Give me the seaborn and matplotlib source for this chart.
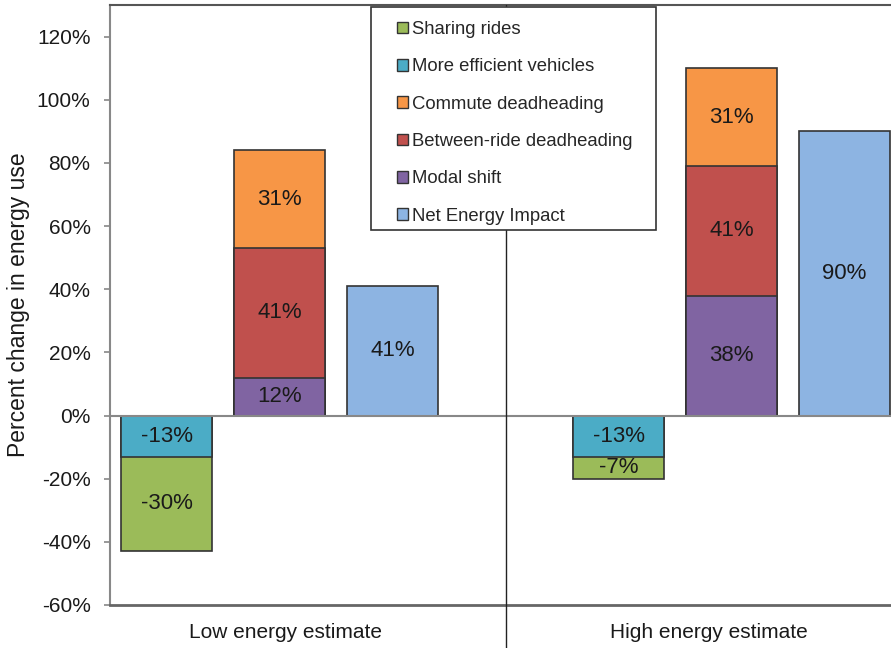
import matplotlib
matplotlib.use("Agg")
import matplotlib.pyplot as plt
from matplotlib.patches import Patch, Rectangle
import seaborn as sns

# values (percent change in energy use)
categories = ["Low energy estimate", "High energy estimate"]
sharing_rides = [-30, -7]
efficient_vehicles = [-13, -13]
modal_shift = [12, 38]
between_ride = [41, 41]
commute = [31, 31]
net_impact = [41, 90]

legend_names = ["Sharing rides", "More efficient vehicles", "Commute deadheading",
                "Between-ride deadheading", "Modal shift", "Net Energy Impact"]
legend_colors = ["#9BBB59", "#4BACC6", "#F79646", "#C0504D", "#8064A2", "#8DB4E2"]
col = dict(zip(legend_names, legend_colors))

# 7 slots on the x axis: three bars per estimate with an empty slot between
slots = ["low_neg", "low_pos", "low_net", "gap", "high_neg", "high_pos", "high_net"]
neg_slots = ["low_neg", "high_neg"]
pos_slots = ["low_pos", "high_pos"]
net_slots = ["low_net", "high_net"]

sns.set_theme(style="white")
plt.rcParams["font.family"] = ["Liberation Sans", "DejaVu Sans"]

fig = plt.figure(figsize=(8.91, 6.48), dpi=100)
ax = fig.add_axes([110 / 891, 1 - 605 / 648, 791 / 891, 600 / 648])

edge = "#333333"
bar_kw = dict(order=slots, saturation=1, errorbar=None, edgecolor=edge,
              linewidth=1.2, width=0.8, ax=ax, zorder=3)

# stacks drawn from the outer total inwards so that segments overlap
neg_outer = [a + b for a, b in zip(efficient_vehicles, sharing_rides)]
pos_mid = [a + b for a, b in zip(modal_shift, between_ride)]
pos_outer = [a + b for a, b in zip(pos_mid, commute)]

sns.barplot(x=neg_slots, y=neg_outer, color=col["Sharing rides"], **bar_kw)
sns.barplot(x=neg_slots, y=efficient_vehicles, color=col["More efficient vehicles"], **bar_kw)
sns.barplot(x=pos_slots, y=pos_outer, color=col["Commute deadheading"], **bar_kw)
sns.barplot(x=pos_slots, y=pos_mid, color=col["Between-ride deadheading"], **bar_kw)
sns.barplot(x=pos_slots, y=modal_shift, color=col["Modal shift"], **bar_kw)
sns.barplot(x=net_slots, y=net_impact, color=col["Net Energy Impact"], **bar_kw)

# segment labels
def label_stack(slot_names, bottoms, values):
    for s, b, v in zip(slot_names, bottoms, values):
        ax.text(slots.index(s), b + v / 2, f"{v}%", ha="center", va="center",
                fontsize=16, color="#1a1a1a", zorder=5)

label_stack(neg_slots, [0, 0], efficient_vehicles)
label_stack(neg_slots, efficient_vehicles, sharing_rides)
label_stack(pos_slots, [0, 0], modal_shift)
label_stack(pos_slots, modal_shift, between_ride)
label_stack(pos_slots, pos_mid, commute)
label_stack(net_slots, [0, 0], net_impact)

ax.set_xlim(-0.5, 6.5)
ax.set_ylim(-60, 130)
ax.set_yticks(range(-60, 121, 20))
ax.set_yticklabels([f"{t}%" for t in range(-60, 121, 20)], fontsize=15, color="#1a1a1a")
ax.set_xticks([1.05, 4.8])
ax.set_xticklabels(categories, fontsize=15, color="#1a1a1a")
ax.tick_params(axis="x", length=0, pad=13)
ax.tick_params(axis="y", left=True, length=4, width=1.2, color="#888888", pad=10)
ax.set_xlabel("")
ax.set_ylabel("Percent change in energy use", fontsize=16.5, color="#1a1a1a", labelpad=5)

ax.axhline(0, color="#888888", lw=1.5, zorder=4)
ax.axvline(3, ymin=-0.075, ymax=1, color="#222222", lw=1, clip_on=False, zorder=4)

ax.spines["left"].set_color("#888888")
ax.spines["left"].set_linewidth(1.5)
ax.spines["bottom"].set_color("#666666")
ax.spines["bottom"].set_linewidth(2)
ax.spines["top"].set_color("#555555")
ax.spines["top"].set_linewidth(1.5)
ax.spines["right"].set_visible(False)

# legend box
fig.add_artist(Rectangle((371 / 891, 1 - 230 / 648), (656 - 371) / 891, (230 - 7) / 648,
                         transform=fig.transFigure, facecolor="white", edgecolor="#333333",
                         lw=1.2, zorder=6))
handles = [Patch(facecolor=c, edgecolor=edge, lw=1) for c in legend_colors]
leg = fig.legend(handles, legend_names, loc="upper left",
                 bbox_to_anchor=(397 / 891, 1 - 21 / 648), frameon=False,
                 fontsize=13.3, labelspacing=1.1, handlelength=0.6, handleheight=0.6,
                 handletextpad=0.2, borderpad=0, borderaxespad=0)
leg.set_zorder(7)

fig.savefig("out.png", dpi=100)
